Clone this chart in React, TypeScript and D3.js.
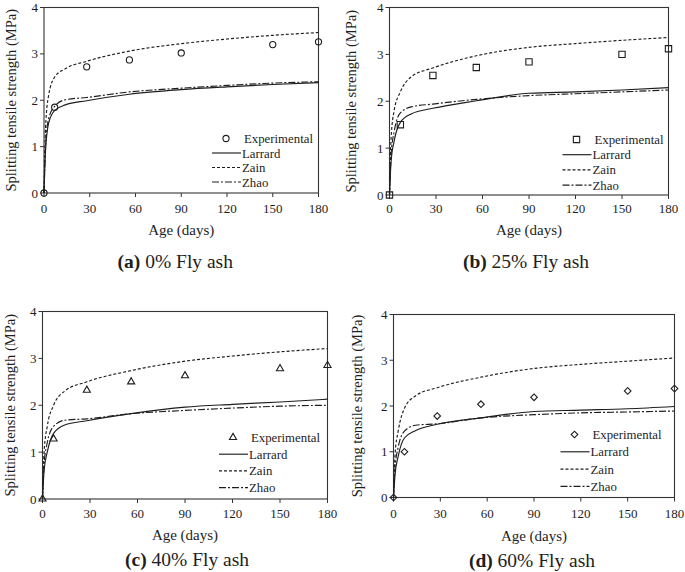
import React from "react";
import * as d3 from "d3";

// ---- Data ----
const expDays = [0, 7, 28, 56, 90, 150, 180];
const modelDays = [0, 1, 3, 7, 14, 28, 56, 90, 120, 150, 180];
const xTicks = [0, 30, 60, 90, 120, 150, 180];
const yTicks = [0, 1, 2, 3, 4];
const seriesNames = ["Experimental", "Larrard", "Zain", "Zhao"];

const expA = [0, 1.85, 2.72, 2.87, 3.02, 3.2, 3.26];
const larrardA = [0, 0.9, 1.5, 1.78, 1.9, 1.99, 2.13, 2.23, 2.29, 2.34, 2.38];
const zainA = [0, 1.4, 2.1, 2.5, 2.68, 2.84, 3.06, 3.22, 3.32, 3.4, 3.46];
const zhaoA = [0, 1.0, 1.6, 1.87, 2.01, 2.06, 2.18, 2.26, 2.32, 2.37, 2.4];

const expB = [0, 1.5, 2.55, 2.72, 2.84, 3.0, 3.12];
const larrardB = [0, 0.7, 1.15, 1.55, 1.73, 1.85, 2.01, 2.17, 2.2, 2.24, 2.29];
const zainB = [0, 1.2, 1.8, 2.2, 2.52, 2.71, 2.97, 3.15, 3.23, 3.3, 3.36];
const zhaoB = [0, 0.85, 1.35, 1.75, 1.88, 1.94, 2.04, 2.12, 2.16, 2.2, 2.24];

const expC = [0, 1.28, 2.32, 2.5, 2.63, 2.78, 2.85];
const larrardC = [0, 0.6, 1.0, 1.4, 1.58, 1.67, 1.82, 1.96, 2.02, 2.07, 2.13];
const zainC = [0, 1.0, 1.55, 2.0, 2.3, 2.5, 2.74, 2.94, 3.05, 3.14, 3.21];
const zhaoC = [0, 0.75, 1.2, 1.55, 1.68, 1.71, 1.82, 1.89, 1.94, 1.98, 2.0];

const expD = [0, 1.0, 1.78, 2.04, 2.19, 2.33, 2.38];
const larrardD = [0, 0.5, 0.9, 1.3, 1.46, 1.6, 1.74, 1.88, 1.91, 1.94, 1.99];
const zainD = [0, 0.95, 1.45, 1.95, 2.22, 2.4, 2.63, 2.82, 2.91, 2.98, 3.05];
const zhaoD = [0, 0.65, 1.1, 1.45, 1.58, 1.61, 1.74, 1.81, 1.85, 1.87, 1.89];

const FONT = "'Liberation Serif', 'Times New Roman', serif";
const INK = "#1e1e1e";

type Layout = {
  left: number; right: number; top: number; bottom: number;
  ylabX: number; tickDy: number; titleDy: number; capDy: number; capDx: number;
  legX: number; legY: number; legStep: number;
};

type PanelProps = {
  layout: Layout;
  tag: string;
  caption: string;
  marker: "circle" | "square" | "triangle" | "diamond";
  exp: number[]; larrard: number[]; zain: number[]; zhao: number[];
};

function markerPath(kind: string): { d: string; rot: number } {
  if (kind === "circle") return { d: d3.symbol().type(d3.symbolCircle).size(30)()!, rot: 0 };
  if (kind === "square") return { d: d3.symbol().type(d3.symbolSquare).size(40)()!, rot: 0 };
  if (kind === "triangle") return { d: d3.symbol().type(d3.symbolTriangle).size(22)()!, rot: 0 };
  return { d: d3.symbol().type(d3.symbolSquare).size(22)()!, rot: 45 };
}

function Panel({ layout: L, tag, caption, marker, exp, larrard, zain, zhao }: PanelProps) {
  const x = d3.scaleLinear().domain([0, 180]).range([L.left, L.right]);
  const y = d3.scaleLinear().domain([0, 4]).range([L.bottom, L.top]);
  const line = d3
    .line<number>()
    .x((_, i) => x(modelDays[i]))
    .y((v) => y(v))
    .curve(d3.curveMonotoneX);
  const mk = markerPath(marker);
  const styles = [
    { name: seriesNames[1], data: larrard, dash: "none" },
    { name: seriesNames[2], data: zain, dash: "3,2" },
    { name: seriesNames[3], data: zhao, dash: "7,2,2,2" },
  ];
  const cx = (L.left + L.right) / 2;
  const cy = (L.top + L.bottom) / 2;
  return (
    <g fontFamily={FONT} fill={INK}>
      <rect x={L.left} y={L.top} width={L.right - L.left} height={L.bottom - L.top} fill="none" stroke="#333" strokeWidth={1.1} />
      {xTicks.map((t) => (
        <g key={"x" + t}>
          <line x1={x(t)} x2={x(t)} y1={L.bottom} y2={L.bottom + 4} stroke="#333" />
          <text x={x(t)} y={L.bottom + L.tickDy} textAnchor="middle" fontSize={13}>{t}</text>
        </g>
      ))}
      {yTicks.map((t) => (
        <g key={"y" + t}>
          <line x1={L.left - 4} x2={L.left} y1={y(t)} y2={y(t)} stroke="#333" />
          <text x={L.left - 6} y={y(t) + 4.5} textAnchor="end" fontSize={13}>{t}</text>
        </g>
      ))}
      <text x={cx} y={L.bottom + L.titleDy} textAnchor="middle" fontSize={15}>Age (days)</text>
      <text transform={`translate(${L.ylabX},${cy}) rotate(-90)`} textAnchor="middle" dominantBaseline="central" fontSize={14.5}>
        Splitting tensile strength (MPa)
      </text>
      <text x={cx + L.capDx} y={L.bottom + L.capDy} textAnchor="middle" fontSize={19.5}>
        <tspan fontWeight="bold">{tag}</tspan>
        <tspan> {caption}</tspan>
      </text>
      {styles.map((s) => (
        <path key={s.name} d={line(s.data)!} fill="none" stroke={INK} strokeWidth={1.15} strokeDasharray={s.dash} />
      ))}
      {exp.map((v, i) => (
        <path key={"e" + i} d={mk.d} transform={`translate(${x(expDays[i])},${y(v)}) rotate(${mk.rot})`} fill="none" stroke={INK} strokeWidth={1.1} />
      ))}
      <g>
        <path d={mk.d} transform={`translate(${L.legX + 14},${L.legY}) rotate(${mk.rot})`} fill="none" stroke={INK} strokeWidth={1.1} />
        <text x={L.legX + 32} y={L.legY + 4.5} fontSize={12.8}>{seriesNames[0]}</text>
        {styles.map((s, i) => (
          <g key={"l" + s.name}>
            <line x1={L.legX} x2={L.legX + 29} y1={L.legY + L.legStep * (i + 1)} y2={L.legY + L.legStep * (i + 1)} stroke={INK} strokeWidth={1.15} strokeDasharray={s.dash} />
            <text x={L.legX + 30} y={L.legY + L.legStep * (i + 1) + 4.5} fontSize={12.8}>{s.name}</text>
          </g>
        ))}
      </g>
    </g>
  );
}

const layoutA: Layout = { left: 44, right: 318.5, top: 7.5, bottom: 193, ylabX: 11, tickDy: 20, titleDy: 42, capDy: 75, capDx: -6, legX: 212, legY: 138.5, legStep: 14.5 };
const layoutB: Layout = { left: 389.5, right: 668.5, top: 7.5, bottom: 195, ylabX: 351, tickDy: 18, titleDy: 40, capDy: 73, capDx: -3, legX: 562.5, legY: 139.5, legStep: 15.2 };
const layoutC: Layout = { left: 42.5, right: 327.5, top: 311.5, bottom: 499, ylabX: 9.5, tickDy: 19, titleDy: 41, capDy: 67, capDx: 2, legX: 219, legY: 437.5, legStep: 16.7 };
const layoutD: Layout = { left: 393.5, right: 674.5, top: 314.5, bottom: 497.5, ylabX: 357, tickDy: 20, titleDy: 43, capDy: 69, capDx: -2, legX: 560.5, legY: 434.5, legStep: 17.3 };

export default function App() {
  return (
    <svg width={685} height={572} style={{ position: "absolute", left: 0, top: 0, background: "#fff" }}>
      <Panel layout={layoutA} tag="(a)" caption="0% Fly ash" marker="circle" exp={expA} larrard={larrardA} zain={zainA} zhao={zhaoA} />
      <Panel layout={layoutB} tag="(b)" caption="25% Fly ash" marker="square" exp={expB} larrard={larrardB} zain={zainB} zhao={zhaoB} />
      <Panel layout={layoutC} tag="(c)" caption="40% Fly ash" marker="triangle" exp={expC} larrard={larrardC} zain={zainC} zhao={zhaoC} />
      <Panel layout={layoutD} tag="(d)" caption="60% Fly ash" marker="diamond" exp={expD} larrard={larrardD} zain={zainD} zhao={zhaoD} />
    </svg>
  );
}
